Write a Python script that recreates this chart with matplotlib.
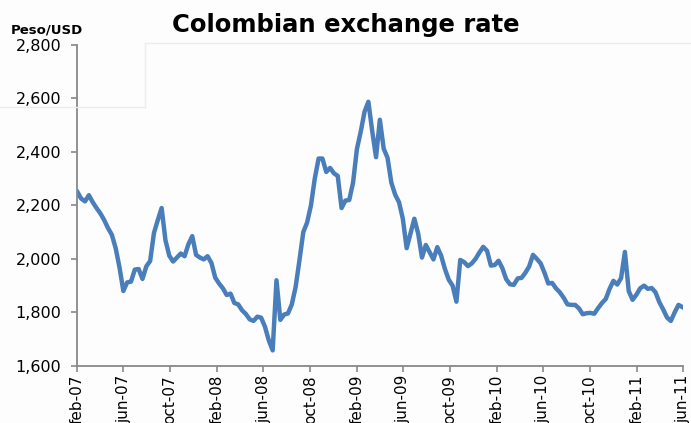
import numpy as np
import pandas as pd
import matplotlib
matplotlib.use("Agg")
import matplotlib.pyplot as plt
import matplotlib.dates as mdates
from matplotlib.lines import Line2D

# Peso per USD, every 10 days from 1 Feb 2007
rate = [
    2250, 2225, 2215, 2238, 2212, 2190, 2170, 2145, 2115, 2090,
    2040, 1968, 1880, 1912, 1915, 1960, 1962, 1925, 1972, 1992,
    2097, 2145, 2190, 2070, 2012, 1990, 2005, 2020, 2010, 2055,
    2085, 2015, 2005, 1998, 2010, 1985, 1930, 1908, 1890, 1865,
    1870, 1835, 1830, 1808, 1794, 1774, 1768, 1784, 1780, 1746,
    1695, 1658, 1920, 1772, 1792, 1796, 1830, 1895, 1995, 2100,
    2136, 2200, 2300, 2375, 2375, 2325, 2340, 2320, 2310, 2190,
    2218, 2220, 2285, 2410, 2475, 2550, 2587, 2478, 2380, 2520,
    2412, 2378, 2285, 2240, 2212, 2150, 2040, 2095, 2150, 2095,
    2005, 2052, 2025, 1998, 2044, 2012, 1962, 1922, 1900, 1840,
    1996, 1988, 1973, 1983, 2000, 2024, 2045, 2030, 1975, 1977,
    1993, 1965, 1924, 1905, 1903, 1927, 1929, 1948, 1972, 2015,
    2000, 1983, 1948, 1908, 1910, 1890, 1875, 1855, 1830, 1828,
    1828, 1815, 1793, 1797, 1798, 1795, 1816, 1835, 1850, 1888,
    1918, 1904, 1928, 2026, 1880, 1847, 1866, 1890, 1900, 1888,
    1891, 1875, 1838, 1811, 1781, 1768, 1800, 1828, 1820,
]
dates = pd.date_range("2007-02-01", periods=len(rate), freq="10D")

tick_dates = pd.date_range("2007-02-01", "2011-06-01", freq="4MS")
tick_labels = ["feb-07", "jun-07", "oct-07", "feb-08", "jun-08", "oct-08",
               "feb-09", "jun-09", "oct-09", "feb-10", "jun-10", "oct-10",
               "feb-11", "jun-11"]
y_ticks = [1600, 1800, 2000, 2200, 2400, 2600, 2800]

fig = plt.figure(figsize=(6.91, 4.23), dpi=100)
fig.patch.set_facecolor("#fdfdfd")
ax = fig.add_axes([0.112, 0.135, 0.876, 0.759])
ax.set_facecolor("none")

ax.plot(dates, rate, color="#4a7ebb", lw=3.2, solid_joinstyle="round")

ax.set_xlim(tick_dates[0], tick_dates[-1])
ax.set_ylim(1600, 2800)
ax.set_xticks(tick_dates)
ax.set_xticklabels(tick_labels, rotation=90, fontsize=11)
ax.set_yticks(y_ticks)
ax.set_yticklabels([f"{v:,}" for v in y_ticks], fontsize=11.5)
ax.tick_params(axis="both", color="#888888", length=4.5, width=1.2)
ax.tick_params(axis="y", pad=7)
ax.tick_params(axis="x", pad=2)

for s in ["top", "right"]:
    ax.spines[s].set_visible(False)
for s in ["left", "bottom"]:
    ax.spines[s].set_color("#888888")
    ax.spines[s].set_linewidth(1.3)

fig.text(0.5, 0.94, "Colombian exchange rate", ha="center", va="center",
         fontsize=17.5, fontweight="bold")
fig.text(0.068, 0.93, "Peso/USD", ha="center", va="center",
         fontsize=9.5, fontweight="bold")

# faint slide-background borders
for xs, ys in [([145, 691], [43, 43]), ([145, 145], [43, 107]), ([0, 145], [107, 107])]:
    fig.add_artist(Line2D([x / 691 for x in xs], [1 - y / 423 for y in ys],
                          color="#ececec", lw=1, transform=fig.transFigure))

fig.savefig("out.png", dpi=100)
